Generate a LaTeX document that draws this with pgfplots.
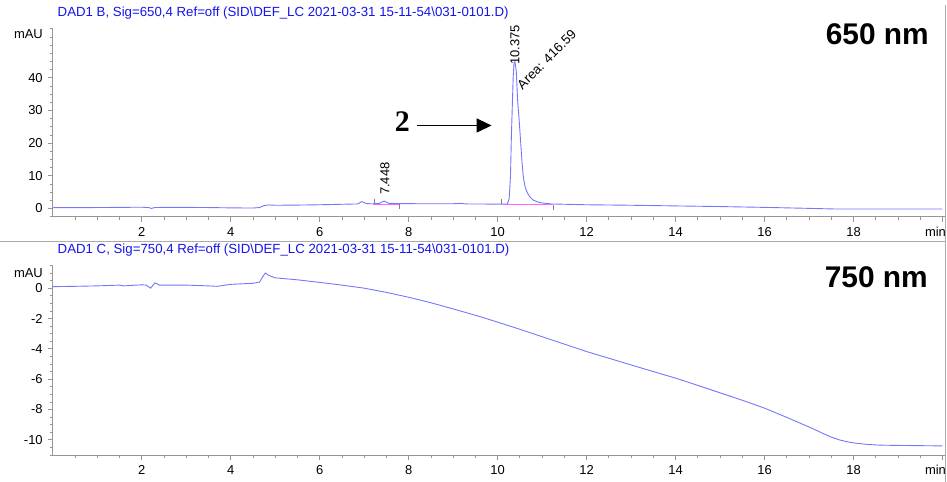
\documentclass[border=0pt]{standalone}
\usepackage{fontspec}
\setmainfont{Liberation Sans}
\newfontfamily\timesfont{Liberation Serif}
\usepackage{pgfplots}
\pgfplotsset{compat=1.18}
\usetikzlibrary{arrows.meta}

\definecolor{trace}{RGB}{118,118,255}
\definecolor{hdr}{RGB}{20,20,235}
\definecolor{axgray}{RGB}{150,150,150}
\definecolor{bline}{RGB}{255,100,255}

\pgfplotsset{
  chrom/.style={
    scale only axis,
    width=892bp,
    xmin=0, xmax=20.05,
    axis x line*=bottom,
    axis y line*=left,
    axis line style={axgray, line width=0.9bp},
    tick align=outside,
    major tick length=5bp,
    minor tick length=3bp,
    every tick/.style={axgray, line width=0.7bp},
    xtick={2,4,...,18},
    minor xtick={0.5,1,...,20},
    extra x ticks={20},
    extra x tick labels={min},
    extra x tick style={tick label style={xshift=-7bp}},
    tick label style={font=\fontsize{13}{15}\selectfont, black},
    xticklabel style={yshift=-2bp},
    yticklabel style={xshift=-1.5bp},
    /pgf/number format/assume math mode=true,
    clip=false,
    no marks,
  },
}

\begin{document}
\begin{tikzpicture}
\useasboundingbox (0,0) rectangle (947bp,482bp);

% frame lines of the printout
\draw[axgray!80, line width=0.9bp] (0,241bp) -- (945bp,241bp);
\draw[axgray!80, line width=0.9bp] (945bp,0) -- (945bp,477bp);

% headers
\node[anchor=base west, inner sep=0, text=hdr, font=\fontsize{13.3}{15}\selectfont]
  at (57.5bp,465bp) {DAD1 B, Sig=650,4 Ref=off (SID\textbackslash DEF\_LC 2021-03-31 15-11-54\textbackslash 031-0101.D)};
\node[anchor=base west, inner sep=0, text=hdr, font=\fontsize{13.3}{15}\selectfont]
  at (57.5bp,228bp) {DAD1 C, Sig=750,4 Ref=off (SID\textbackslash DEF\_LC 2021-03-31 15-11-54\textbackslash 031-0101.D)};

% 650 nm
\begin{axis}[chrom,
  at={(52.7bp,265.3bp)}, anchor=south west,
  height=188bp,
  ymin=-2.5, ymax=55,
  ytick={0,10,20,30,40},
  minor ytick={-2.5,2.5,5,...,55},
]
\addplot[trace, line width=0.9bp] coordinates {
(0,0.25) (0.5,0.28) (1.0,0.3) (1.5,0.35) (2.0,0.4) (2.15,0.3) (2.22,0.05)
(2.3,0.3) (2.5,0.35) (3.0,0.35) (3.5,0.3) (4.0,0.2) (4.5,0.15) (4.65,0.3)
(4.75,0.9) (4.85,1.1) (5.0,1.0) (5.5,1.05) (6.0,1.15) (6.5,1.3) (6.85,1.4)
(6.95,2.1) (7.05,1.5) (7.2,1.45) (7.35,1.6) (7.45,2.3) (7.55,1.6) (7.8,1.5)
(8.5,1.45) (9.0,1.45) (9.15,1.6) (9.3,1.4) (10.0,1.35) (10.22,1.4)
(10.26,3) (10.29,10) (10.31,22) (10.33,31) (10.35,40) (10.37,44.6)
(10.39,44.9) (10.42,42) (10.45,33) (10.48,28) (10.52,20) (10.55,14)
(10.58,9.5) (10.62,6.5) (10.67,4.8) (10.72,3.6) (10.8,2.6) (10.9,2.0)
(11.0,1.7) (11.2,1.4) (12,1.15) (13,1.0) (14,0.8) (15,0.6) (16,0.35)
(17,0.05) (17.6,-0.15) (20,-0.15)
};
% integration baselines
\addplot[bline, line width=0.9bp] coordinates {(7.2,1.3) (7.8,1.3)};
\addplot[bline, line width=0.9bp] coordinates {(10.09,1.15) (11.25,1.15)};
% peak start / end marks
\addplot[gray, line width=0.6bp] coordinates {(7.22,1.5) (7.22,3.0)};
\addplot[gray, line width=0.6bp] coordinates {(7.8,1.3) (7.8,-0.2)};
\addplot[gray, line width=0.6bp] coordinates {(10.09,1.3) (10.09,2.8)};
\addplot[gray, line width=0.6bp] coordinates {(11.25,1.2) (11.25,-0.3)};

\node[anchor=east, inner sep=0, font=\fontsize{13}{15}\selectfont] at (axis cs:0,53.3) [xshift=-9.7bp] {mAU};
\node[rotate=90, anchor=west, inner sep=0, font=\fontsize{13}{15}\selectfont] at (axis cs:10.39,43.9) {10.375};
\node[rotate=45, anchor=base west, inner sep=0, font=\fontsize{13.3}{15}\selectfont] at (axis cs:10.56,36.2) {Area: 416.59};
\node[rotate=90, anchor=west, inner sep=0, font=\fontsize{13}{15}\selectfont] at (axis cs:7.47,4.1) {7.448};

\draw[line width=1.5bp, -{Triangle[length=15bp,width=14bp]}] (axis cs:8.18,25.4) -- (axis cs:9.865,25.4);
\node[inner sep=0, font=\timesfont\bfseries\fontsize{30}{32}\selectfont] at (axis cs:7.86,26.5) {2};
\end{axis}

% 750 nm
\begin{axis}[chrom,
  at={(52.7bp,27bp)}, anchor=south west,
  height=189.6bp,
  ymin=-11, ymax=1.5,
  ytick={-10,-8,...,0},
  minor ytick={-11,-10.5,...,1.5},
]
\addplot[trace, line width=0.9bp] coordinates {
(0,0.1) (0.5,0.12) (1.0,0.15) (1.5,0.2) (1.6,0.15) (2.0,0.22) (2.1,0.2)
(2.2,0.0) (2.3,0.35) (2.4,0.2) (3.0,0.2) (3.5,0.15) (3.7,0.12) (4.0,0.25)
(4.5,0.32) (4.65,0.4) (4.72,0.75) (4.78,1.0) (4.85,0.85) (5.0,0.68)
(5.5,0.55) (6.0,0.38) (6.5,0.2) (7.0,0.0) (7.5,-0.28) (8.0,-0.6)
(8.5,-0.96) (9.0,-1.37) (9.6,-1.87) (10,-2.24) (10.5,-2.71) (11,-3.2)
(11.5,-3.69) (12,-4.18) (12.5,-4.62) (13,-5.06) (13.5,-5.5) (14,-5.93)
(14.5,-6.41) (15,-6.9) (15.5,-7.39) (16,-7.91) (16.5,-8.52) (17.06,-9.23)
(17.3,-9.56) (17.5,-9.82) (17.7,-10.02) (17.9,-10.15) (18.05,-10.22)
(18.3,-10.3) (18.58,-10.35) (19.03,-10.37) (20,-10.4)
};
\node[anchor=east, inner sep=0, font=\fontsize{13}{15}\selectfont] at (axis cs:0,1.0) [xshift=-9.7bp] {mAU};
\end{axis}

\node[anchor=east, inner sep=0, font=\bfseries\fontsize{30}{32}\selectfont] at (929bp,448bp) {650 nm};
\node[anchor=east, inner sep=0, font=\bfseries\fontsize{30}{32}\selectfont] at (928bp,205bp) {750 nm};
\end{tikzpicture}
\end{document}
